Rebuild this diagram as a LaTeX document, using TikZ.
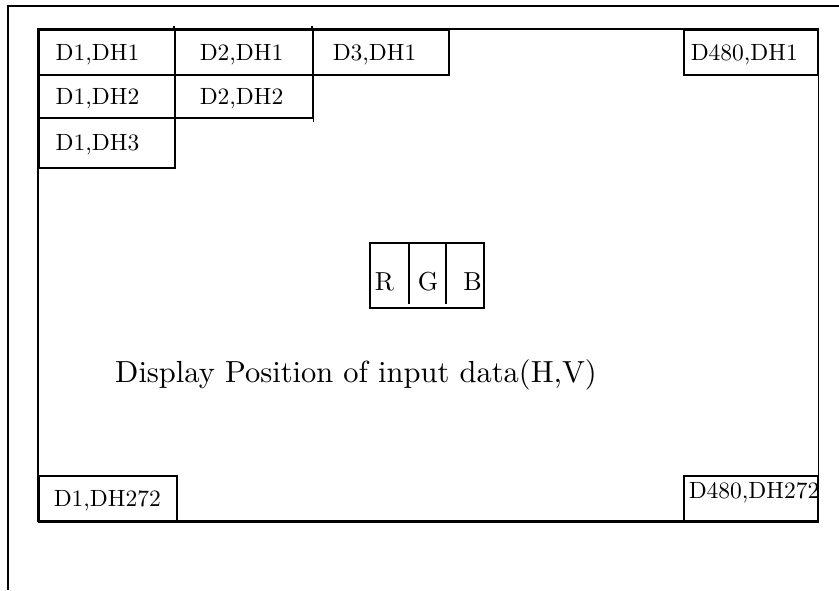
\documentclass[tikz,border=0pt]{standalone}
\usepackage{fontspec}
\setmainfont{lmroman10-regular}[Extension=.otf]
\usepackage{tikz}
\usetikzlibrary{positioning}

\begin{document}
\begin{tikzpicture}[x=1pt,y=-1pt,
  frame/.style={draw=black,line width=1.2pt},
  panel/.style={draw=black,line width=1.5pt},
  cell/.style 2 args={draw=black,line width=1.5pt,anchor=north west,align=left,
    inner ysep=0pt,inner xsep=#1,text width=#2,text height=16pt,text depth=0pt,
    font=\fontsize{23.5}{26}\selectfont},
  rgb/.style={anchor=base,inner sep=0pt,font=\fontsize{26}{28}\selectfont},
  caption/.style={anchor=base west,inner sep=0pt,font=\fontsize{30.5}{34}\selectfont}
]
\useasboundingbox (0,0) rectangle (839,590);
\draw[frame] (839,6) -- (8,6) -- (8,590);

\node[cell={17pt}{102pt},minimum height=45pt] (d1h1) at (38,29) {D1,DH1};
\node[cell={25pt}{88pt},minimum height=45pt] (d2h1) at (174,29) {D2,DH1};
\node[cell={20pt}{96pt},minimum height=45pt] (d3h1) at (312,29) {D3,DH1};
\node[cell={17pt}{102pt},minimum height=43pt] (d1h2) at (38,74) {D1,DH2};
\node[cell={25pt}{88pt},minimum height=43pt] (d2h2) at (174,74) {D2,DH2};
\node[cell={17pt}{102pt},minimum height=50pt] (d1h3) at (38,117) {D1,DH3};
\node[cell={7pt}{120pt},minimum height=45pt] (d480h1) at (683,29) {D480,DH1};
\node[cell={15pt}{108pt},minimum height=45pt] (d1h272) at (38,475) {D1,DH272};
\node[cell={5pt}{124pt},minimum height=45pt,text depth=16pt] (d480h272) at (683,475) {D480,DH272};

\draw[panel] (d1h1.north west) rectangle (d480h272.south east);
\draw[line width=2.5pt] (d1h272.south west) -- (d480h272.south east);
\draw[panel] (d2h1.north west) -- ++(0,-3) (d3h1.north west) -- ++(0,-3) (d2h2.south east) -- ++(0,3);

\draw[panel] (370,243) rectangle (484,308);
\draw[panel] (409,243) -- (409,304) (446,243) -- (446,304);
\node[rgb] (r) at (384.5,290) {R};
\node[rgb] (g) at (428,290) {G};
\node[rgb] (b) at (472.5,290) {B};

\node[caption] (title) at (115,382) {Display Position of input data(H,V)};
\end{tikzpicture}
\end{document}
